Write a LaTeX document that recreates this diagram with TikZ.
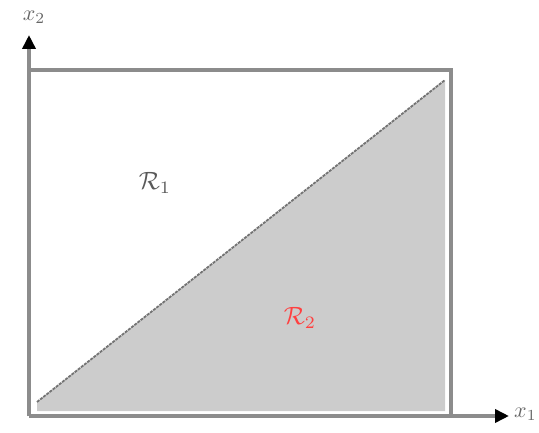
\documentclass[tikz,border=0pt]{standalone}
\usepackage{graphicx}
\usetikzlibrary{arrows.meta}
\newcommand{\biglab}[1]{\scalebox{2.5}{$#1$}}
\newcommand{\axlab}[1]{\scalebox{2.2}{$#1$}}
\begin{document}
\begin{tikzpicture}[x=1pt,y=-1pt,
  axis/.style={draw=black!45,line width=3.5pt,-{Triangle[length=14pt,width=13pt,color=black]}},
  border/.style={draw=black!45,line width=3.5pt},
  lab/.style={inner sep=0pt}]
\useasboundingbox (0,0) rectangle (539,433);
\coordinate (O) at (29,416);
\coordinate (ytip) at (29,35);
\coordinate (xtip) at (509,416);
\coordinate (TL) at (29,70);
\coordinate (TR) at (451,70);
\coordinate (BR) at (451,416);
% shaded region
\fill[black!20] (37,402) -- (445,80) -- (445,411) -- (37,411) -- cycle;
\draw[black!55,line width=1.8pt,dash pattern=on 3pt off 1pt] (37,402) -- (445,80);
% box
\draw[border] (TL) -- (TR) -- (BR);
% axes
\draw[axis] (O) -- (ytip);
\draw[axis] (O) -- (xtip);
\node[lab,text=black!60] (x2) at (34,17) {\axlab{x_2}};
\node[lab,text=black!60,anchor=west] (x1) at (514,414) {\axlab{x_1}};
\node[lab,text=black!65] (R1) at (155,183) {\biglab{\mathcal{R}_1}};
\node[lab,text=red!75] (R2) at (300,318) {\biglab{\mathcal{R}_2}};
\end{tikzpicture}
\end{document}
